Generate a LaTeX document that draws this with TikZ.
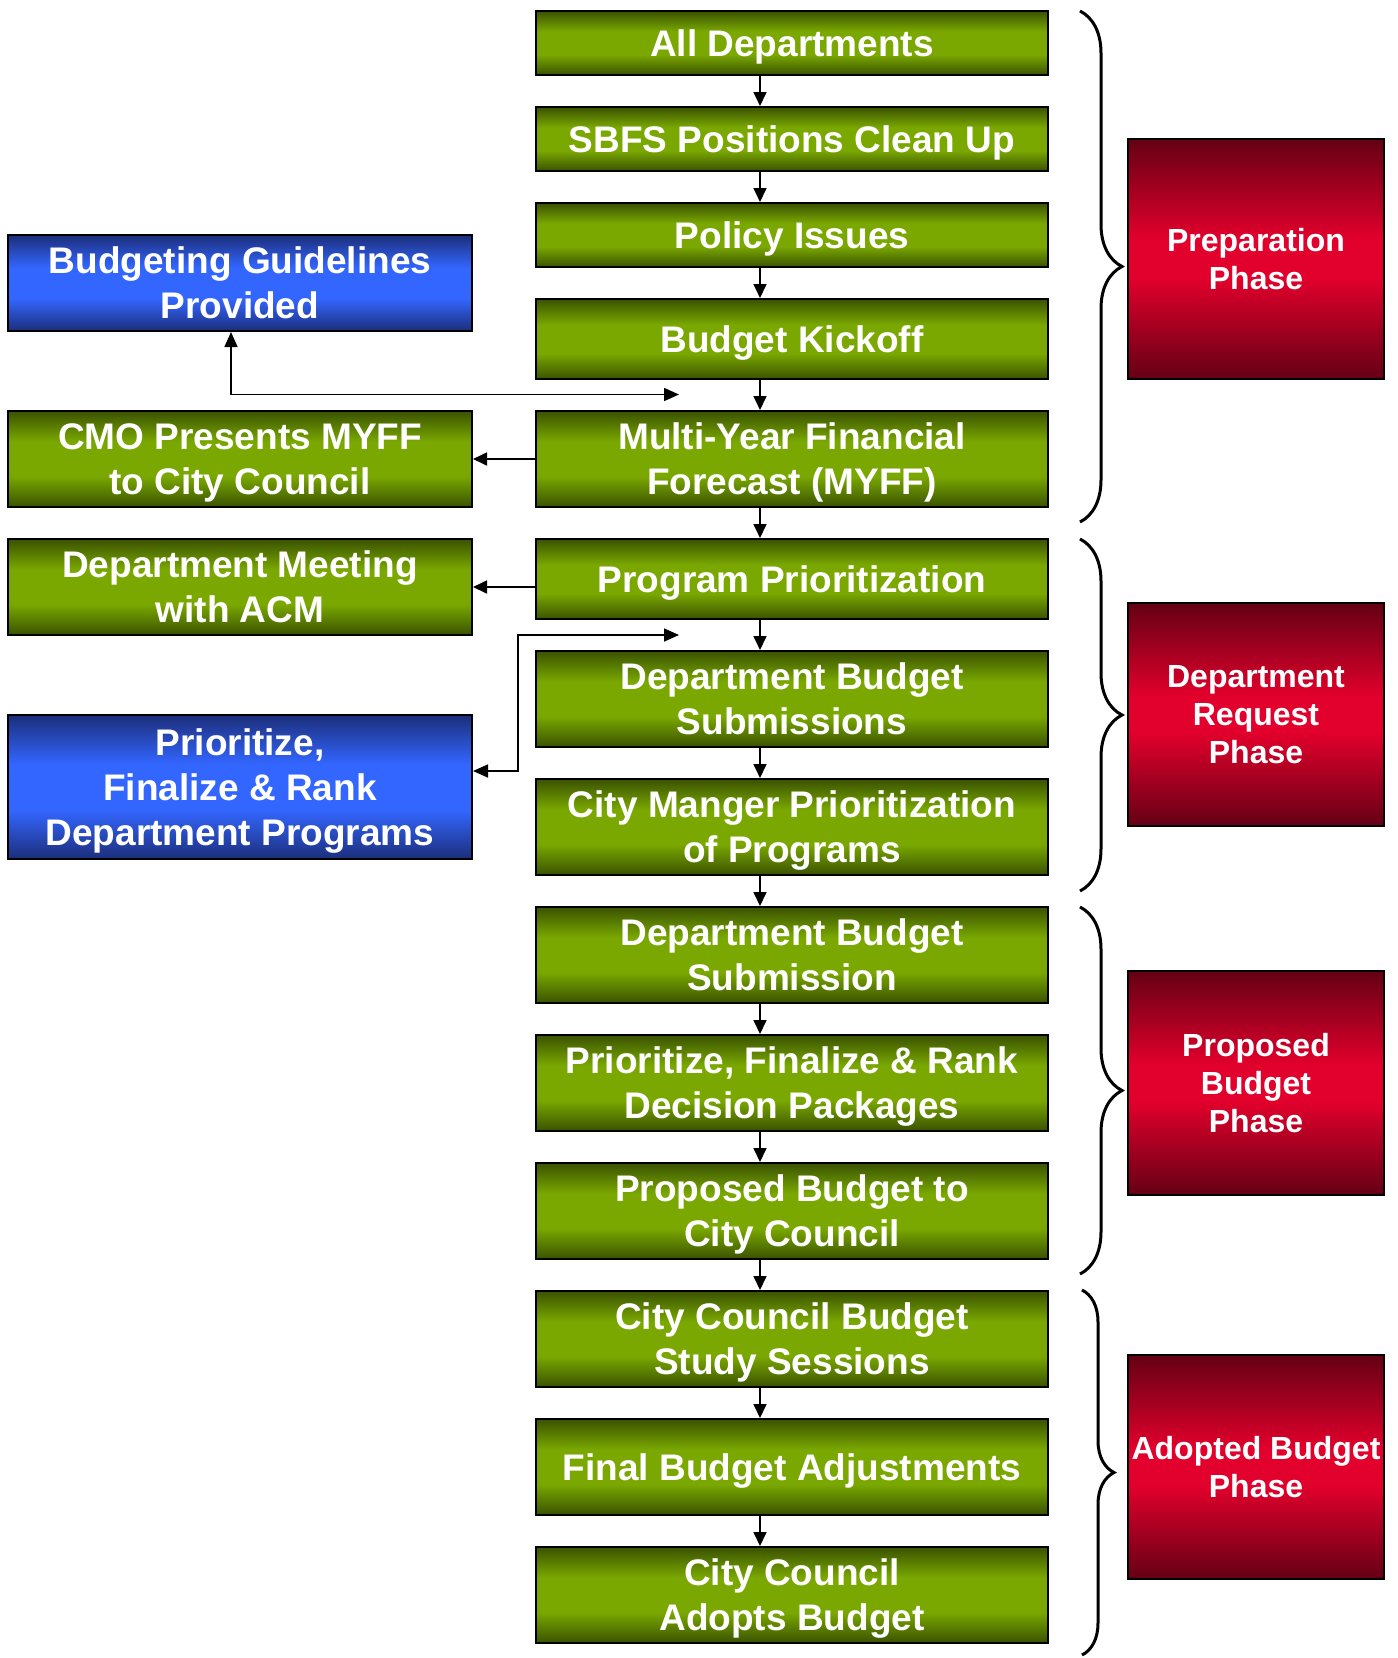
\documentclass[tikz,border=0pt]{standalone}
\usepackage{fontspec}
\setmainfont{Liberation Sans}
\usetikzlibrary{arrows.meta,decorations.pathreplacing}
\definecolor{gdark}{RGB}{58,82,0}
\definecolor{gbright}{RGB}{122,168,0}
\definecolor{bdark}{RGB}{28,46,122}
\definecolor{bbright}{RGB}{51,102,255}
\definecolor{rdark}{RGB}{100,0,20}
\definecolor{rbright}{RGB}{226,0,44}
\pgfdeclareverticalshading{greenbar}{100bp}{color(0bp)=(gdark); color(25bp)=(gdark); color(41bp)=(gbright); color(59bp)=(gbright); color(75bp)=(gdark); color(100bp)=(gdark)}
\pgfdeclareverticalshading{bluebar}{100bp}{color(0bp)=(bdark); color(25bp)=(bdark); color(42bp)=(bbright); color(58bp)=(bbright); color(75bp)=(bdark); color(100bp)=(bdark)}
\pgfdeclareverticalshading{redbar}{100bp}{color(0bp)=(rdark); color(25bp)=(rdark); color(46bp)=(rbright); color(54bp)=(rbright); color(75bp)=(rdark); color(100bp)=(rdark)}
\tikzset{
  box/.style={draw=black, line width=2pt, text=white, align=center, inner sep=0pt,
    text depth=0pt, font=\bfseries\fontsize{37}{45}\selectfont},
  greenbox/.style={box, shading=greenbar},
  bluebox/.style={box, shading=bluebar},
  redbox/.style={box, shading=redbar, font=\bfseries\fontsize{32}{38}\selectfont},
  mainbox/.style={greenbox, minimum width=512pt},
  sidebox/.style={minimum width=464pt},
  phasebox/.style={redbox, minimum width=256pt},
  arr/.style={line width=1.6pt, -{Triangle[length=14pt,width=13pt]}},
  darr/.style={line width=1.6pt, {Triangle[length=15pt,width=13pt]}-{Triangle[length=15pt,width=13pt]}},
  bracefig/.style={line width=3pt, decorate, decoration={brace, amplitude=#1, aspect=0.5}}
}
\begin{document}
\begin{tikzpicture}[x=1pt, y=-1pt]
\useasboundingbox[fill=white] (0,0) rectangle (1398,1658);
% main column
\node[mainbox, minimum height=64pt] (n1) at (792,43) {All Departments};
\node[mainbox, minimum height=64pt] (n2) at (792,139) {SBFS Positions Clean Up};
\node[mainbox, minimum height=64pt] (n3) at (792,235) {Policy Issues};
\node[mainbox, minimum height=80pt] (n4) at (792,339) {Budget Kickoff};
\node[mainbox, minimum height=96pt] (n5) at (792,459) {Multi-Year Financial\\Forecast (MYFF)};
\node[mainbox, minimum height=80pt] (n6) at (792,579) {Program Prioritization};
\node[mainbox, minimum height=96pt] (n7) at (792,699) {Department Budget\\Submissions};
\node[mainbox, minimum height=96pt] (n8) at (792,827) {City Manger Prioritization\\of Programs};
\node[mainbox, minimum height=96pt] (n9) at (792,955) {Department Budget\\Submission};
\node[mainbox, minimum height=96pt] (n10) at (792,1083) {Prioritize, Finalize \& Rank\\Decision Packages};
\node[mainbox, minimum height=96pt] (n11) at (792,1211) {Proposed Budget to\\City Council};
\node[mainbox, minimum height=96pt] (n12) at (792,1339) {City Council Budget\\Study Sessions};
\node[mainbox, minimum height=96pt] (n13) at (792,1467) {Final Budget Adjustments};
\node[mainbox, minimum height=96pt] (n14) at (792,1595) {City Council\\Adopts Budget};
% side boxes
\node[bluebox, sidebox, minimum height=96pt] (gl) at (240,283) {Budgeting Guidelines\\Provided};
\node[greenbox, sidebox, minimum height=96pt] (cmo) at (240,459) {CMO Presents MYFF\\to City Council};
\node[greenbox, sidebox, minimum height=96pt] (dm) at (240,587) {Department Meeting\\with ACM};
\node[bluebox, sidebox, minimum height=144pt] (pr) at (240,787) {Prioritize,\\Finalize \& Rank\\Department Programs};
% phase boxes
\node[phasebox, minimum height=240pt] (p1) at (1256,258.5) {Preparation\\Phase};
\node[phasebox, minimum height=223pt] (p2) at (1256,714.5) {Department\\Request\\Phase};
\node[phasebox, minimum height=224pt] (p3) at (1256,1083) {Proposed\\Budget\\Phase};
\node[phasebox, minimum height=224pt] (p4) at (1256,1467) {Adopted Budget\\Phase};
% helper coordinates
\coordinate (ax) at (760,0);
\coordinate (gx) at (231,0);
\coordinate (k1) at (679,394.5);
\coordinate (k2) at (679,635);
\coordinate (ky) at (0,771);
\coordinate (kx) at (518,635);
% main arrows
\foreach \a/\b in {n1/n2,n2/n3,n3/n4,n4/n5,n5/n6,n6/n7,n7/n8,n8/n9,n9/n10,n10/n11,n11/n12,n12/n13,n13/n14}
  \draw[arr] (\a.south -| ax) -- (\b.north -| ax);
% side arrows
\draw[arr] (n5.west) -- (cmo.east);
\draw[arr] (n6.west |- dm.east) -- (dm.east);
\draw[darr] (gl.south -| gx) |- (k1);
\draw[darr] (pr.east |- ky) -| (kx) -- (k2);
% braces
\draw[bracefig=42pt] (1080,11) -- (1080,522);
\draw[bracefig=42pt] (1080,539) -- (1080,891);
\draw[bracefig=42pt] (1080,907) -- (1080,1274);
\draw[bracefig=32pt] (1082,1290) -- (1082,1655);
\end{tikzpicture}
\end{document}
